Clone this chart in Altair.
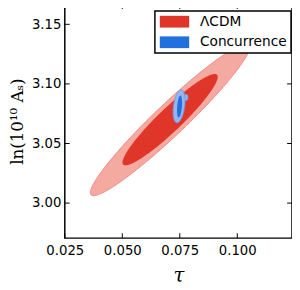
import numpy as np
import pandas as pd
import altair as alt

# ---- data ----
x_ticks = [0.025, 0.050, 0.075, 0.100]
y_ticks = [3.00, 3.05, 3.10, 3.15]
x_domain = [0.025, 0.1238]
y_domain = [2.9706, 3.167]

models = ["ΛCDM", "Concurrence"]
# contour ellipses: center x, center y, half x-extent, half y-extent, correlation
lcdm_outer = [0.0708, 3.0700, 0.0347, 0.0638, 0.960]
lcdm_inner = [0.0708, 3.0700, 0.0207, 0.0383, 0.937]
conc_bump = [0.0778, 3.0886, 0.0008, 0.0027, 0.0]
conc_outer = [0.0747, 3.0812, 0.0026, 0.0138, 0.35]
conc_inner = [0.0749, 3.0810, 0.0011, 0.0092, 0.35]

red_light, red_edge, red_dark = "#F4A9A1", "#EC8880", "#E0362A"
blue_light, blue_edge, blue_dark = "#95B5EE", "#6F9BE6", "#2070DE"


def contour(p, model):
    cx, cy, X, Y, r = p
    th = np.linspace(np.pi, 0, 181)
    c = np.cos(th)
    s = np.sqrt(np.clip(1 - c ** 2, 0, None))
    q = np.sqrt(1 - r ** 2)
    return pd.DataFrame({
        "x": cx + X * c,
        "yu": cy + Y * (r * c + q * s),
        "yl": cy + Y * (r * c - q * s),
        "model": model,
    })


W, H = 232, 239
xs = alt.Scale(domain=x_domain, zero=False, nice=False)
ys = alt.Scale(domain=y_domain, zero=False, nice=False)
xaxis = alt.Axis(values=x_ticks, format=".3f", ticks=False, domain=False, grid=False,
                 labelFontSize=13.5, labelFont="DejaVu Sans", labelColor="black",
                 labelPadding=6, labelOverlap=False, labelFlush=False,
                 title="τ", titleFont="DejaVu Serif",
                 titleFontStyle="italic", titleFontWeight="normal", titleFontSize=20,
                 titleColor="black", titlePadding=9)
yaxis = alt.Axis(values=y_ticks, format=".2f", ticks=False, domain=False, grid=False,
                 labelFontSize=13.5, labelFont="DejaVu Sans", labelColor="black",
                 labelPadding=4, labelOverlap=False, labelFlush=False,
                 title="ln(10¹⁰ Aₛ)",
                 titleFont="DejaVu Serif", titleFontWeight="normal", titleFontSize=17,
                 titleColor="black", titlePadding=5)


def X(f):
    return alt.X(f, type="quantitative", scale=xs, axis=xaxis)


def Y(f):
    return alt.Y(f, type="quantitative", scale=ys, axis=yaxis)


color = alt.Color("model:N", scale=alt.Scale(domain=models, range=[red_dark, blue_dark]),
                  legend=alt.Legend(title=None, orient="none", legendX=92, legendY=7,
                                    symbolType="M-1,-1H4V1H-1Z", symbolSize=144,
                                    symbolStrokeWidth=0, labelFontSize=14,
                                    labelFont="DejaVu Sans", labelColor="black",
                                    labelOffset=28, padding=4, rowPadding=7,
                                    strokeColor="black", fillColor="white"))


def area(p, model, fill, stroke=None, enc_color=False):
    kw = dict(fill=fill, clip=True)
    if stroke:
        kw.update(stroke=stroke, strokeWidth=1)
    ch = alt.Chart(contour(p, model)).mark_area(**kw)
    enc = dict(x=X("x"), y=Y("yu"), y2=alt.Y2("yl"))
    if enc_color:
        enc["color"] = color
        ch = alt.Chart(contour(p, model)).mark_area(clip=True)
    return ch.encode(**enc)


layers = [
    area(lcdm_outer, models[0], red_light, red_edge),
    area(lcdm_inner, models[0], red_dark, enc_color=True),
    area(conc_bump, models[1], blue_light, blue_edge),
    area(conc_outer, models[1], blue_light, blue_edge),
    area(conc_inner, models[1], blue_dark, enc_color=True),
]

xt = pd.DataFrame({"xt": x_ticks})
yt = pd.DataFrame({"yt": y_ticks})
tk = dict(color="black", strokeWidth=1)
layers += [
    alt.Chart(xt).mark_rule(**tk).encode(x=X("xt"), y=alt.value(H - 5), y2=alt.value(H)),
    alt.Chart(xt).mark_rule(**tk).encode(x=X("xt"), y=alt.value(0), y2=alt.value(5)),
    alt.Chart(yt).mark_rule(**tk).encode(y=Y("yt"), x=alt.value(0), x2=alt.value(5)),
    alt.Chart(yt).mark_rule(**tk).encode(y=Y("yt"), x=alt.value(W - 5), x2=alt.value(W)),
]

chart = alt.layer(*layers).properties(
    width=W, height=H,
    autosize=alt.AutoSizeParams(type="none"),
    padding={"left": 58, "top": -7, "right": 0, "bottom": 50},
).configure_view(stroke="black", strokeWidth=1.5
).configure_legend(strokeWidth=1.5, cornerRadius=0)

chart.save("out.html", embed_options={"renderer": "svg", "actions": False})
